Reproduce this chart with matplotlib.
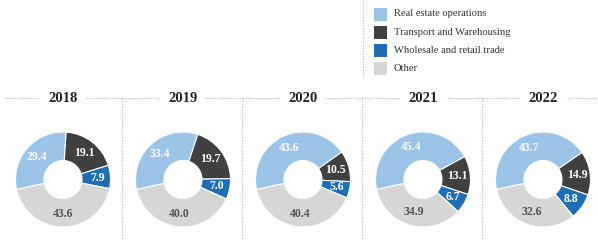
import numpy as np
import matplotlib.pyplot as plt

plt.rcParams['font.family'] = ['Liberation Serif', 'DejaVu Serif']

# data
years = ["2018", "2019", "2020", "2021", "2022"]
categories = ["Real estate operations", "Transport and Warehousing",
              "Wholesale and retail trade", "Other"]
real_estate = [29.4, 33.4, 43.6, 45.4, 43.7]
transport = [19.1, 19.7, 10.5, 13.1, 14.9]
wholesale = [7.9, 7.0, 5.6, 6.7, 8.8]
other = [43.6, 40.0, 40.4, 34.9, 32.6]

colors = ["#9cc3e8", "#404040", "#1f6db5", "#d6d6d6"]
text_colors = ["white", "white", "white", "#555555"]

W, H = 598, 240
fig = plt.figure(figsize=(W / 100, H / 100), dpi=100)

# background axes in pixel coords for lines / titles / legend
bg = fig.add_axes([0, 0, 1, 1])
bg.set_xlim(0, W)
bg.set_ylim(H, 0)
bg.axis("off")

line_kw = dict(color="#b5b5b5", linestyle=(0, (1, 1.5)), linewidth=0.8)
bg.plot([6, 596], [98, 98], **line_kw)
for x in [122, 242, 362, 482]:
    bg.plot([x, x], [98, 240], **line_kw)
bg.plot([363, 363], [0, 76], **line_kw)

# legend
for i, (lab, c) in enumerate(zip(categories, colors)):
    y = 14 + i * 18.3
    bg.add_patch(plt.Rectangle((374, y - 6.5), 13, 13, color=c, lw=0))
    bg.text(394, y, lab, fontsize=7.6, va="center", ha="left", color="#333333")

r_px = 47.5
cy = 179.5
for k, yr in enumerate(years):
    cx = 63 + 120 * k
    bg.text(cx, 99, yr, fontsize=10.5, fontweight="bold", ha="center", va="center",
            color="#222222",
            bbox=dict(facecolor="white", edgecolor="none", pad=6))

    ax = fig.add_axes([(cx - r_px) / W, (H - cy - r_px) / H, 2 * r_px / W, 2 * r_px / H])
    vals = [real_estate[k], transport[k], wholesale[k], other[k]]
    wedges, _ = ax.pie(vals, colors=colors, startangle=192, counterclock=False,
                       radius=1, wedgeprops=dict(width=0.6, edgecolor="white", linewidth=0.8))
    for w, v, tc in zip(wedges, vals, text_colors):
        ang = np.deg2rad((w.theta1 + w.theta2) / 2)
        ax.text(0.72 * np.cos(ang), 0.72 * np.sin(ang), f"{v:.1f}", ha="center",
                va="center", fontsize=8.5, fontweight="bold", color=tc)
    ax.set_xlim(-1, 1)
    ax.set_ylim(-1, 1)

fig.savefig("out.png", dpi=100)
